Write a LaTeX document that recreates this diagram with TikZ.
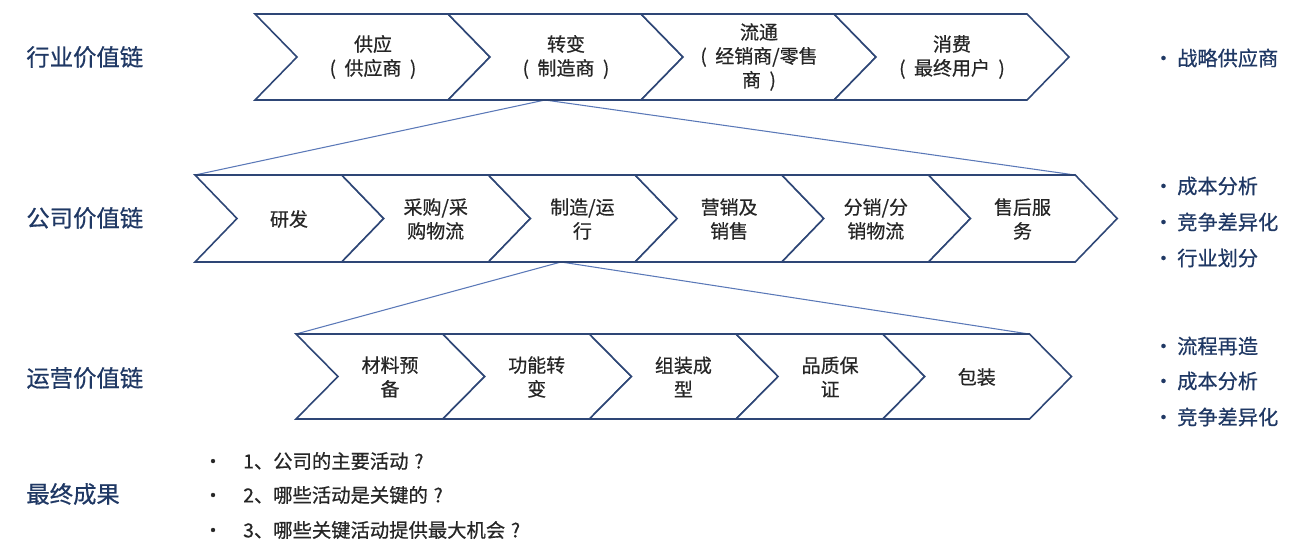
\documentclass[tikz,border=0pt]{standalone}
\usepackage{fontspec}
\setmainfont{Noto Sans CJK SC}[FakeBold=0.6]
\usetikzlibrary{positioning}
\definecolor{chevline}{HTML}{2E4676}
\definecolor{fanline}{HTML}{5A78B8}
\definecolor{titlecol}{HTML}{1F3864}

\begin{document}
\begin{tikzpicture}[x=0.02cm, y=-0.02cm,
    chev/.style={draw=chevline, line width=0.9pt, line join=miter, fill=white},
    chevtext/.style={align=center, text=black!85,
                     font=\fontsize{10.8}{13.6}\selectfont},
    title/.style={anchor=west, inner sep=0pt, text=titlecol,
                  font=\fontsize{13.3}{16}\selectfont},
    point/.style={anchor=west, inner sep=0pt, text=titlecol,
                  font=\fontsize{11.5}{14}\selectfont},
    ask/.style={anchor=west, inner sep=0pt, text=black!85,
                font=\fontsize{11}{14}\selectfont},
    fan/.style={draw=fanline, line width=0.6pt}
  ]
  \useasboundingbox[fill=white] (0,0) rectangle (1304,558);

  % links between the rows
  \coordinate (indS) at (545,100);
  \coordinate (coNW) at (195,175);
  \coordinate (coNE) at (1075,175);
  \coordinate (coS)  at (561,262);
  \coordinate (opNW) at (296,334);
  \coordinate (opNE) at (1029,334);
  \draw[fan] (coNW) -- (indS) -- (coNE);
  \draw[fan] (opNW) -- (coS) -- (opNE);

  % industry value chain
  \foreach \lab [count=\i from 0] in {{供应\\(\hspace{0.45em}供应商\hspace{0.45em})},
      {转变\\(\hspace{0.45em}制造商\hspace{0.45em})},
      {流通\\(\hspace{0.45em}经销商/零售\\商\hspace{0.45em})},
      {消费\\(\hspace{0.45em}最终用户\hspace{0.45em})}}{
    \draw[chev] ({255+193*\i},14) -- ++(193,0) -- ++(42,43) -- ++(-42,43)
      -- ++(-193,0) -- ++(42,-43) -- cycle;
    \node[chevtext] (ind\i) at ({255+193*\i+118},57) {\lab};
  }

  % company value chain
  \foreach \lab [count=\i from 0] in {研发, {采购/采\\购物流}, {制造/运\\行},
      {营销及\\销售}, {分销/分\\销物流}, {售后服\\务}}{
    \draw[chev] ({195+146.7*\i},175) -- ++(146.7,0) -- ++(42,43.5) -- ++(-42,43.5)
      -- ++(-146.7,0) -- ++(42,-43.5) -- cycle;
    \node[chevtext] (co\i) at ({195+146.7*\i+94},219) {\lab};
  }

  % operations value chain
  \foreach \lab [count=\i from 0] in {{材料预\\备}, {功能转\\变}, {组装成\\型},
      {品质保\\证}, 包装}{
    \draw[chev] ({296+146.7*\i},334) -- ++(146.7,0) -- ++(42,42.5) -- ++(-42,42.5)
      -- ++(-146.7,0) -- ++(42,-42.5) -- cycle;
    \node[chevtext] (op\i) at ({296+146.7*\i+94},377) {\lab};
  }

  % row titles
  \node[title] (tInd) at (26,57)  {行业价值链};
  \node[title] (tCo)  at (26,218) {公司价值链};
  \node[title] (tOp)  at (26,378) {运营价值链};
  \node[title] (tRes) at (26,494) {最终成果};

  % key points on the right
  \foreach \txt/\yy [count=\i] in {战略供应商/58, 成本分析/186, 竞争差异化/222,
      行业划分/258, 流程再造/346, 成本分析/381, 竞争差异化/417}{
    \node[point] (pt\i) at (1153,\yy) {\makebox[13.6pt][l]{•}\txt};
  }

  % questions
  \foreach \txt/\yy [count=\i] in {1、公司的主要活动\hspace{0.3em}?/461,
      2、哪些活动是关键的\hspace{0.3em}?/495,
      3、哪些关键活动提供最大机会\hspace{0.3em}?/530}{
    \node[ask] (q\i) at (203,\yy) {\makebox[22.7pt][l]{•}\txt};
  }
\end{tikzpicture}
\end{document}
